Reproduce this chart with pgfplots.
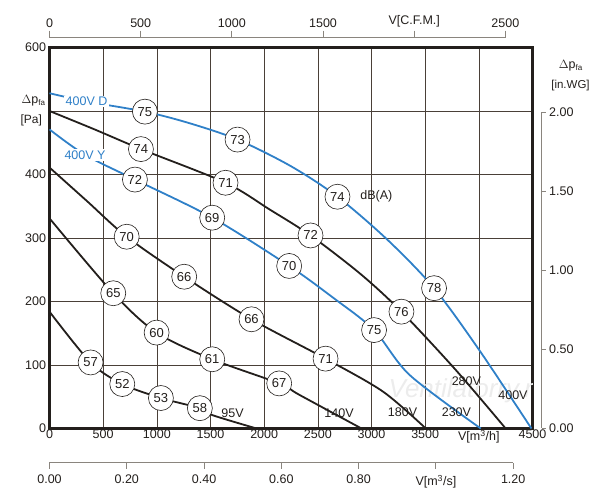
\documentclass[border=0pt]{standalone}
\usepackage{pgfplots}
\pgfplotsset{compat=1.18}
\usepackage{fontspec}
\setmainfont{Liberation Sans}
\definecolor{fr}{HTML}{231F1C}
\definecolor{gr}{HTML}{4A4038}
\definecolor{sec}{HTML}{8A857E}
\definecolor{bl}{HTML}{2F80C8}
\begin{document}
\begin{tikzpicture}[x=1pt,y=1pt]
\path[use as bounding box] (-49.5,-71.5) rectangle (550.5,428.5);
\begin{axis}[at={(0,0)},anchor=south west,scale only axis,width=483pt,height=381pt,
  xmin=0,xmax=4500,ymin=0,ymax=600,
  xtick={0,500,...,4500},
  xticklabels={0,500,1000,1500,2000,2500,3000,3500,V[m\textsuperscript{3}/h],4500},
  ytick={0,100,...,600},
  yticklabels={0,100,200,300,400,,600},
  grid=major, major grid style={gr,line width=0.6pt},
  axis line style={fr,line width=2.2pt},
  major tick length=0pt,
  /pgf/number format/assume math mode=true,
  ticklabel style={font=\fontsize{12.5}{14}\selectfont,text=fr},
  xticklabel style={yshift=2pt},
  clip=true]
\node[font=\itshape\fontsize{26}{26}\selectfont,text=gray!15] at (axis cs:3900,60) {Ventilatorry.ru};
\addplot[bl,line width=1.8pt,smooth] coordinates {(0,528)(345,515)(889,499)(1300,481)(1752,455)(2250,413)(2683,365)(3150,297)(3583,221)(4006,123)(4490,0)};
\addplot[fr,line width=1.8pt,smooth] coordinates {(0,500)(420,471)(852,440)(1640,387)(2050,345)(2432,304)(2900,243)(3279,184)(3786,92)(4250,0)};
\addplot[bl,line width=1.8pt,smooth] coordinates {(0,471)(331,431)(796,392)(1516,332)(2233,256)(2650,205)(3024,155)(3357,84)(4018,0)};
\addplot[fr,line width=1.8pt,smooth] coordinates {(0,411)(350,358)(719,302)(1255,239)(1882,172)(2572,110)(3108,58)(3506,0)};
\addplot[fr,line width=1.8pt,smooth] coordinates {(0,331)(594,213)(998,151)(1516,109)(2140,71)(2328,53)(2907,0)};
\addplot[fr,line width=1.8pt,smooth] coordinates {(0,184)(383,104)(678,70)(1038,48)(1401,32)(1519,21)(1929,0)};
% circles
\addplot[only marks,mark=none,nodes near coords,point meta=explicit symbolic,
  nodes near coords style={circle,draw=fr,line width=0.6pt,fill=white,anchor=center,inner sep=0pt,minimum size=25pt,font=\fontsize{13}{14}\selectfont,text=fr}]
 table[meta=l] {
x y l
889 499 75
1752 455 73
2683 365 74
3583 221 78
852 440 74
1640 387 71
2432 304 72
3279 184 76
796 392 72
1516 332 69
2233 256 70
3024 155 75
719 302 70
1255 239 66
1882 172 66
2572 110 71
594 213 65
998 151 60
1516 109 61
2140 71 67
383 104 57
678 70 52
1038 48 53
1401 32 58
};
% text labels
\addplot[only marks,mark=none,nodes near coords,point meta=explicit symbolic,
  nodes near coords style={anchor=center,inner sep=1pt,font=\fontsize{12.5}{14}\selectfont,text=fr}]
 table[meta=l] {
x y l
3046 365 dB(A)
1705 24 95V
2698 24 140V
3289 26 180V
3791 26 230V
3884 74 280V
4318 53 400V
};
\addplot[only marks,mark=none,nodes near coords,point meta=explicit symbolic,
  nodes near coords style={anchor=center,fill=white,inner sep=1.5pt,font=\fontsize{12.5}{14}\selectfont,text=bl}]
 table[meta=l] {
x y l
345 515 {400V D}
331 431 {400V Y}
};
\end{axis}
% CFM axis
\begin{axis}[at={(0,390.8pt)},anchor=north west,scale only axis,width=455.9pt,height=10pt,
  xmin=0,xmax=2500,ymin=0,ymax=1,
  axis x line*=top, axis y line=none,
  xtick={0,500,...,2500},
  xticklabels={0,500,1000,1500,V[C.F.M.],2500},
  tick align=outside, major tick length=7pt,
  axis line style={sec,line width=1pt}, tick style={sec,line width=1pt},
  ticklabel style={font=\fontsize{12.5}{14}\selectfont,text=fr},
  /pgf/number format/assume math mode=true]
\end{axis}
% m3/s axis
\begin{axis}[at={(0,-34.2pt)},anchor=south west,scale only axis,width=463.7pt,height=10pt,
  xmin=0,xmax=1.2,ymin=0,ymax=1,
  axis x line*=bottom, axis y line=none,
  xtick={0,0.2,...,1.2},
  xticklabels={0.00,0.20,0.40,0.60,0.80,V[m\textsuperscript{3}/s],1.20},
  tick align=outside, major tick length=6pt,
  axis line style={sec,line width=1pt}, tick style={sec,line width=1pt},
  ticklabel style={font=\fontsize{12.5}{14}\selectfont,text=fr},
  xticklabel style={yshift=-3pt},
  /pgf/number format/assume math mode=true]
\end{axis}
% in.WG axis
\begin{axis}[at={(492.2pt,0)},anchor=south east,scale only axis,width=10pt,height=316.3pt,
  xmin=0,xmax=1,ymin=0,ymax=2,
  axis y line*=right, axis x line=none,
  ytick={0,0.5,...,2},
  yticklabels={0.00,0.50,1.00,1.50,2.00},
  tick align=outside, major tick length=4pt,
  axis line style={sec,line width=1pt}, tick style={sec,line width=1pt},
  ticklabel style={font=\fontsize{12.5}{14}\selectfont,text=fr},
  /pgf/number format/assume math mode=true]
\end{axis}
\node[font=\fontsize{12.5}{14}\selectfont,text=fr,anchor=east] at (-1pt,328pt) {$\Delta$p\raisebox{-2pt}{\fontsize{8}{9}\selectfont fa}};
\node[font=\fontsize{12}{14}\selectfont,text=fr,anchor=east] at (-4pt,308pt) {[Pa]};
\node[font=\fontsize{12.5}{14}\selectfont,text=fr] at (521pt,363pt) {$\Delta$p\raisebox{-2pt}{\fontsize{8}{9}\selectfont fa}};
\node[font=\fontsize{11.5}{14}\selectfont,text=fr] at (521pt,343pt) {[in.WG]};
\end{tikzpicture}
\end{document}
